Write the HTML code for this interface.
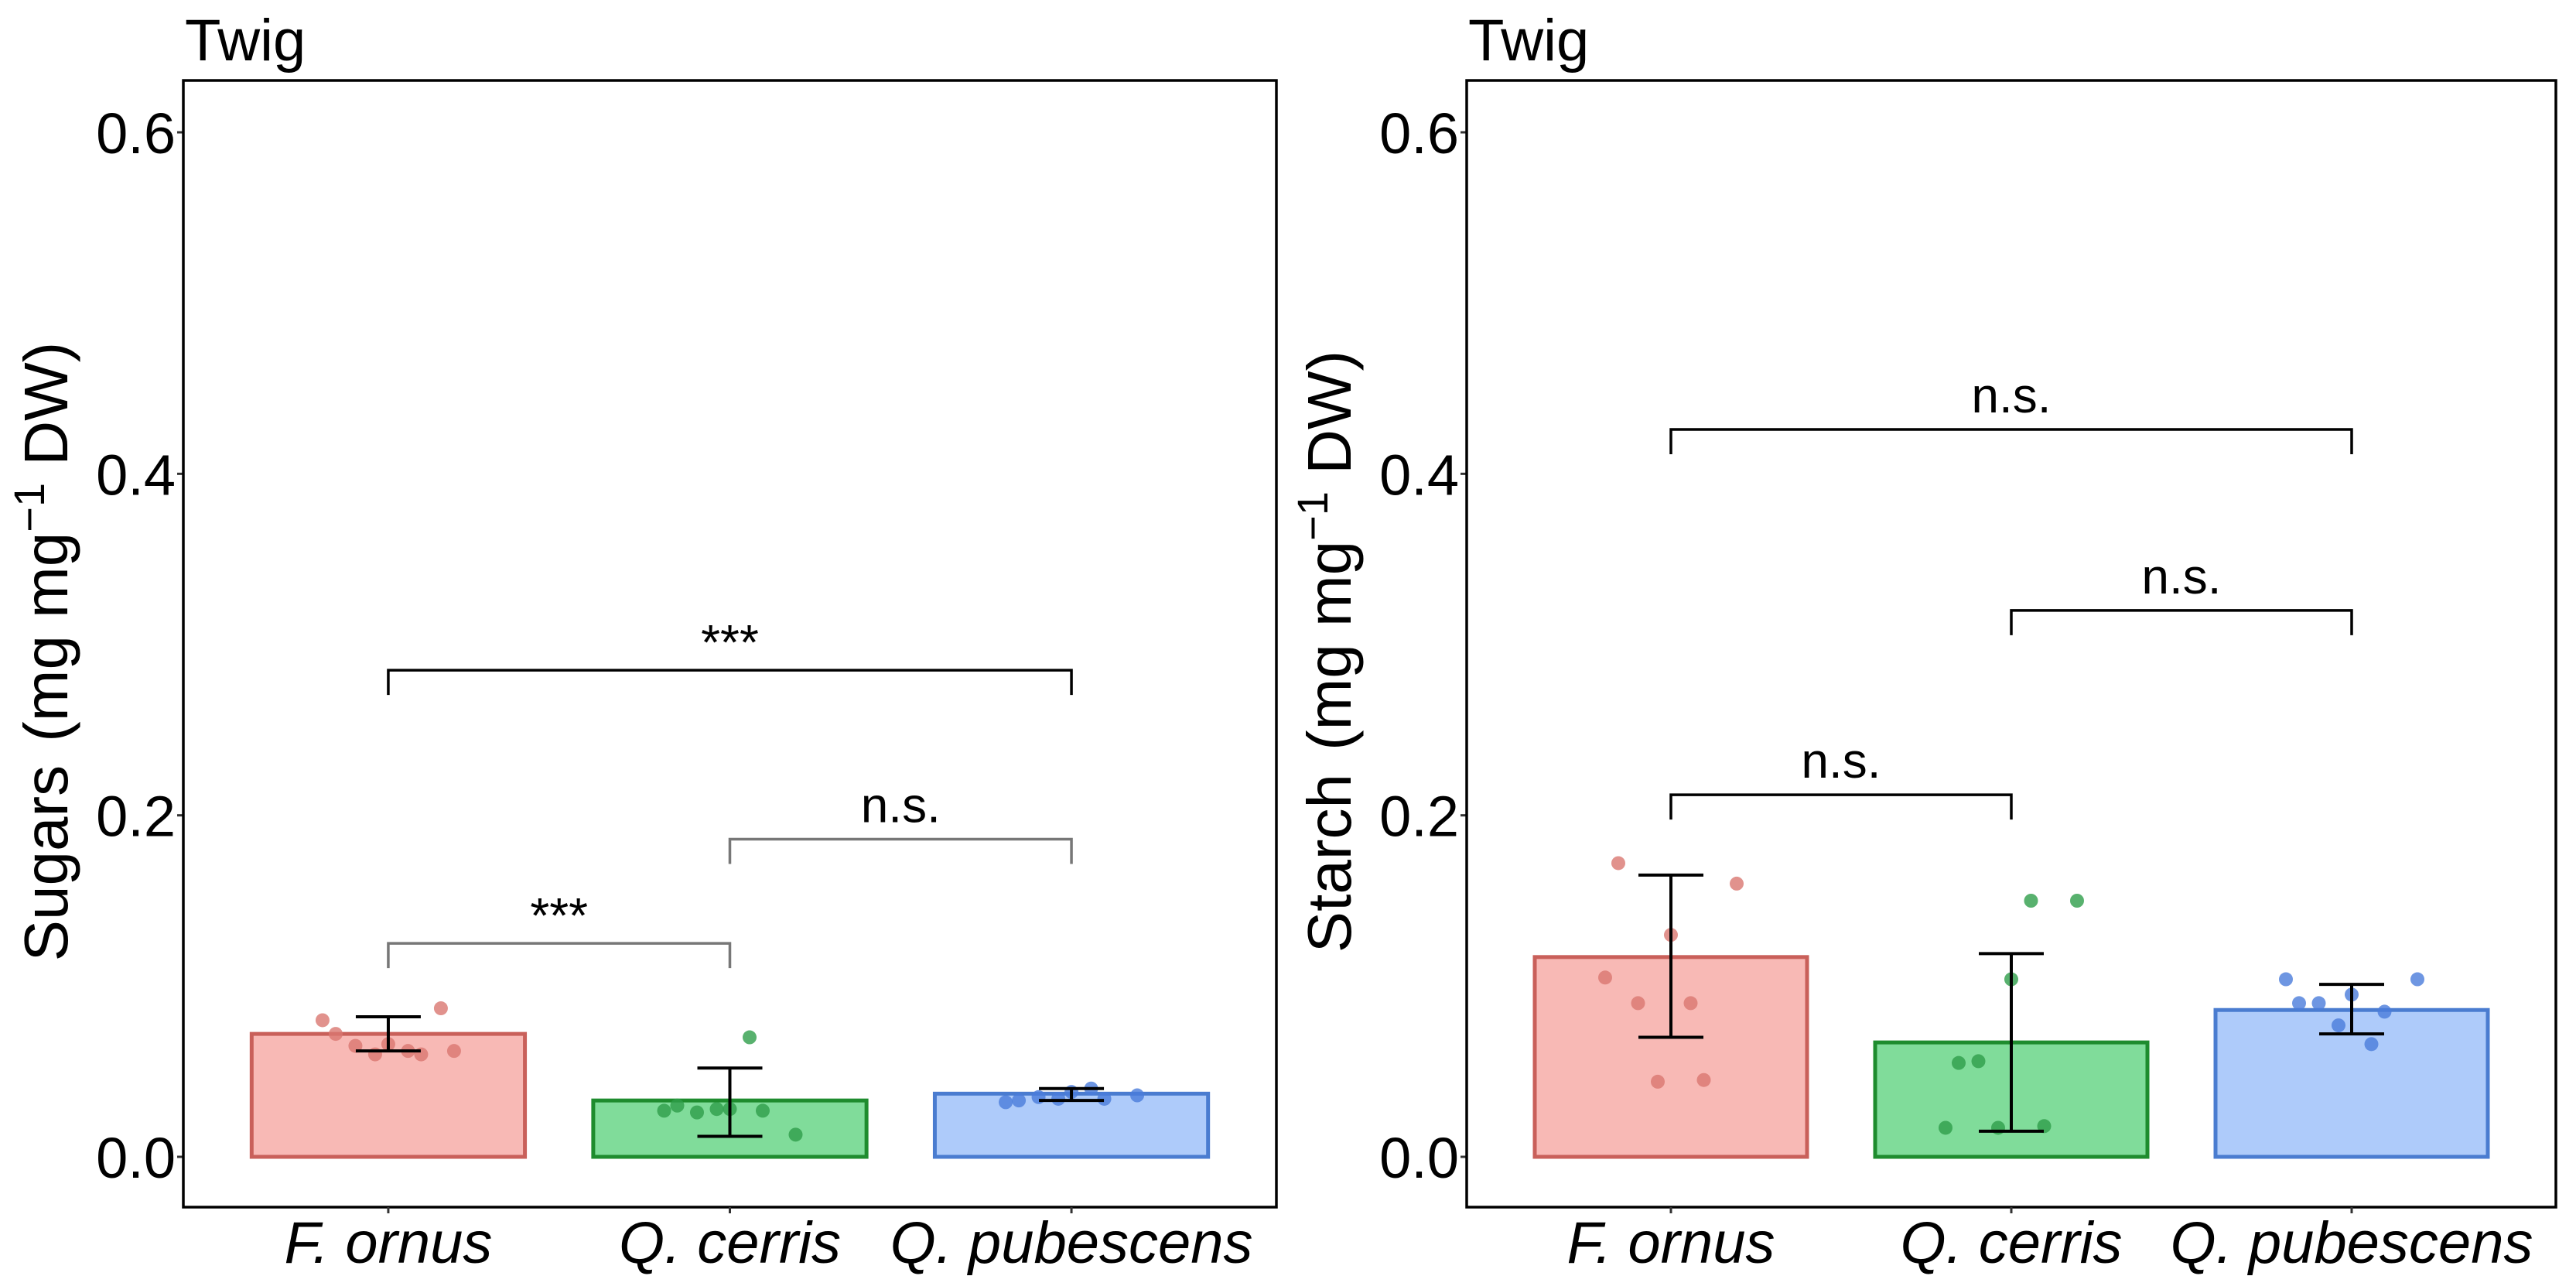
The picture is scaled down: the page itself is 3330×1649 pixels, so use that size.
<!DOCTYPE html>
<html><head><meta charset="utf-8"><style>
html,body{margin:0;padding:0;background:#fff}
svg{display:block}
text{font-family:"Liberation Sans",Arial,sans-serif;fill:#000}
</style></head><body>
<svg id="chart" width="3330" height="1649" xmlns="http://www.w3.org/2000/svg"></svg>
<script>
const categories = ["F. ornus", "Q. cerris", "Q. pubescens"];
const yTicks = [0.0, 0.2, 0.4, 0.6];
const yTickLabels = ["0.0", "0.2", "0.4", "0.6"];
const sugarMeans = [0.072, 0.033, 0.037];
const sugarLow = [0.062, 0.012, 0.033];
const sugarHigh = [0.082, 0.052, 0.040];
const sugarPoints0 = [0.080, 0.065, 0.066, 0.060, 0.062, 0.072, 0.060, 0.062, 0.087];
const sugarPoints1 = [0.027, 0.026, 0.028, 0.027, 0.013, 0.030, 0.028, 0.070];
const sugarPoints2 = [0.032, 0.035, 0.038, 0.034, 0.036, 0.033, 0.034, 0.040];
const starchMeans = [0.117, 0.067, 0.086];
const starchLow = [0.070, 0.015, 0.072];
const starchHigh = [0.165, 0.119, 0.101];
const starchPoints0 = [0.105, 0.090, 0.130, 0.045, 0.160, 0.172, 0.044, 0.090];
const starchPoints1 = [0.017, 0.056, 0.104, 0.018, 0.150, 0.055, 0.017, 0.150];
const starchPoints2 = [0.104, 0.090, 0.095, 0.085, 0.104, 0.090, 0.077, 0.066];
const sugarBrackets = [[0, 2, 0.285, "***"], [1, 2, 0.186, "n.s."], [0, 1, 0.125, "***"]];
const starchBrackets = [[0, 2, 0.426, "n.s."], [1, 2, 0.320, "n.s."], [0, 1, 0.212, "n.s."]];
const bracketGray = [[false, true, true], [false, false, false]];

const svg = document.getElementById('chart');
const NS = 'http://www.w3.org/2000/svg';
function mk(tag, attrs, parent) {
  const e = document.createElementNS(NS, tag);
  for (const k in attrs) e.setAttribute(k, attrs[k]);
  (parent || svg).appendChild(e);
  return e;
}
const fills = ["#F8B9B5", "#80DC9A", "#AECBFA"];
const strokes = ["#C9605A", "#1E8C2E", "#4A7CD0"];
const ptCols = ["#DA7770", "#2E9E4A", "#4A7CDB"];
const jitter = [-50, -25, 0, 25, 50, -40, -10, 15, 40];

function panel(left, right, ylabel, means, low, high, pts, brackets, gray, pname) {
  const top = 104, bottom = 1560, y0 = 1495, y6 = 171;
  const y = v => y0 - (y0 - y6) / 0.6 * v;
  const step = (right - left) / 3.2;
  const x = i => left + (i + 0.6) * step;
  const bw = step * 0.8;
  const g = mk('g', {});
  
  
  const title = mk('text', {x: left + 2, y: 78, 'font-size': 76}, g);
  title.textContent = 'Twig';
  
  
  yTicks.forEach((t, i) => {
    const tk = mk('line', {x1: left - 8, x2: left, y1: y(t), y2: y(t), stroke: '#333', 'stroke-width': 3}, g);
    
    
    const tl = mk('text', {x: left - 10, y: y(t) + 27, 'font-size': 74, 'text-anchor': 'end'}, g);
    tl.textContent = yTickLabels[i];
    
    
  });
  const yl = mk('text', {x: 0, y: 0, 'font-size': 80, 'text-anchor': 'middle', transform: `translate(${left - 150},${(top + bottom) / 2 + 10}) rotate(-90)`}, g);
  yl.innerHTML = ylabel + '<tspan dx="30">(mg mg</tspan><tspan dy="-30" font-size="56">−1</tspan><tspan dy="30"> DW)</tspan>';
  
  
  means.forEach((m, i) => {
    const b = mk('rect', {x: x(i) - bw / 2, y: y(m), width: bw, height: y(0) - y(m), fill: fills[i], stroke: strokes[i], 'stroke-width': 5}, g);
    
    
  });
  pts.forEach((arr, i) => {
    arr.forEach((v, j) => {
      const c = mk('circle', {cx: x(i) + jitter[j % jitter.length] * 1.7, cy: y(v), r: 9, fill: ptCols[i], 'fill-opacity': 0.8}, g);
      
      
    });
  });
  means.forEach((m, i) => {
    const eg = mk('g', {stroke: '#000', 'stroke-width': 4}, g);
    
    
    mk('line', {x1: x(i), x2: x(i), y1: y(low[i]), y2: y(high[i])}, eg);
    mk('line', {x1: x(i) - 42, x2: x(i) + 42, y1: y(low[i]), y2: y(low[i])}, eg);
    mk('line', {x1: x(i) - 42, x2: x(i) + 42, y1: y(high[i]), y2: y(high[i])}, eg);
  });
  brackets.forEach((br, k) => {
    const [a, b, h, lab] = br;
    const col = gray[k] ? '#777' : '#000';
    const bg = mk('g', {}, g);
    
    
    mk('path', {d: `M${x(a)},${y(h) + 32} V${y(h)} H${x(b)} V${y(h) + 32}`, fill: 'none', stroke: col, 'stroke-width': 3.5}, bg);
    const t = mk('text', {x: (x(a) + x(b)) / 2, y: y(h) - (lab === '***' ? 14 : 22), 'font-size': lab === '***' ? 64 : 64, 'text-anchor': 'middle'}, bg);
    t.textContent = lab;
  });
  const fr = mk('rect', {x: left, y: top, width: right - left, height: bottom - top, fill: 'none', stroke: '#000', 'stroke-width': 3.5}, g);
  
  
  categories.forEach((c, i) => {
    const tk = mk('line', {x1: x(i), x2: x(i), y1: bottom, y2: bottom + 8, stroke: '#333', 'stroke-width': 3}, g);
    
    
    const t = mk('text', {x: x(i), y: 1632, 'font-size': 76, 'font-style': 'italic', 'text-anchor': 'middle'}, g);
    t.textContent = c;
    
    
  });
}
panel(237, 1650, 'Sugars', sugarMeans, sugarLow, sugarHigh, [sugarPoints0, sugarPoints1, sugarPoints2], sugarBrackets, bracketGray[0], 'sugars');
panel(1896, 3304, 'Starch', starchMeans, starchLow, starchHigh, [starchPoints0, starchPoints1, starchPoints2], starchBrackets, bracketGray[1], 'starch');
</script>
</body></html>
